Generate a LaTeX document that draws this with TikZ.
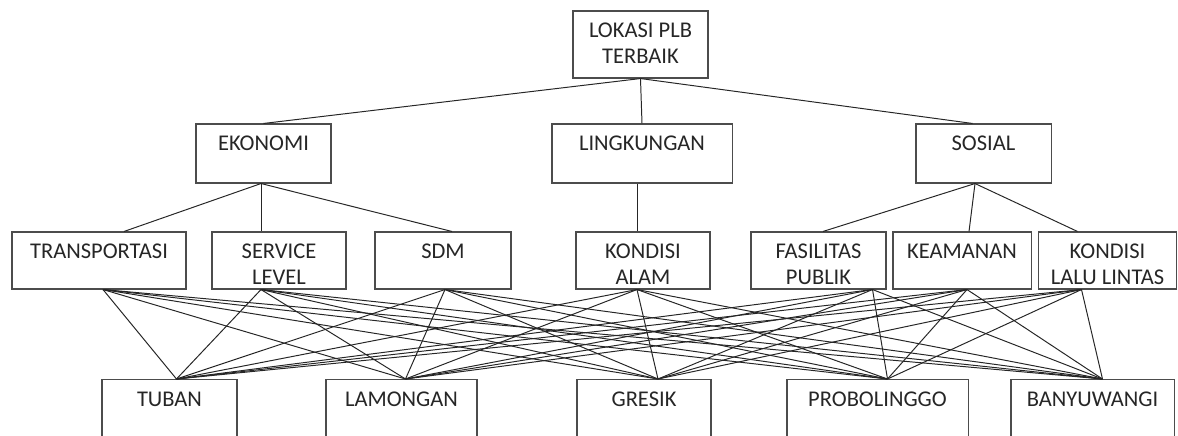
\documentclass[tikz,border=0pt]{standalone}
\usepackage{fontspec}
\setmainfont{Carlito}
\usepackage{tikz}
\usetikzlibrary{calc}

\begin{document}
\begin{tikzpicture}[x=0.025cm, y=-0.025cm, every node/.style={font=\fontsize{16}{18.5}\selectfont},
    box/.style={draw=black!70, line width=0.75pt},
    txt/.style={anchor=north, inner sep=0pt, yshift=-0.31cm, align=center, text=black!85},
    link/.style={black!85, line width=0.7pt}]
      \useasboundingbox (0,0) rectangle (1178,435);
      \clip (0,0) rectangle (1178,435);

      % Tujuan
      \node[box, minimum width=3.375cm, minimum height=1.675cm, label={[txt]north:{LOKASI PLB\\TERBAIK}}] (tujuan) at (640.5,44.5) {};

      % Kriteria
      \node[box, minimum width=3.375cm, minimum height=1.475cm, label={[txt]north:EKONOMI}] (ekonomi) at (263.5,153.5) {};
      \node[box, minimum width=4.5cm, minimum height=1.475cm, label={[txt]north:LINGKUNGAN}] (lingkungan) at (642,153.5) {};
      \node[box, minimum width=3.375cm, minimum height=1.475cm, label={[txt]north:SOSIAL}] (sosial) at (983.5,153.5) {};

      % Sub-kriteria
      \node[box, minimum width=4.35cm, minimum height=1.425cm, label={[txt]north:TRANSPORTASI}] (trans) at (99,260.5) {};
      \node[box, minimum width=3.35cm, minimum height=1.425cm, label={[txt]north:{SERVICE\\LEVEL}}] (serv) at (279,260.5) {};
      \node[box, minimum width=3.4cm, minimum height=1.425cm, label={[txt]north:SDM}] (sdm) at (443,260.5) {};
      \node[box, minimum width=3.35cm, minimum height=1.425cm, label={[txt]north:{KONDISI\\ALAM}}] (alam) at (643,260.5) {};
      \node[box, minimum width=3.375cm, minimum height=1.425cm, label={[txt]north:{FASILITAS\\PUBLIK}}] (fas) at (818.5,260.5) {};
      \node[box, minimum width=3.45cm, minimum height=1.425cm, label={[txt]north:KEAMANAN}] (keam) at (962,260.5) {};
      \node[box, minimum width=3.45cm, minimum height=1.425cm, label={[txt]north:{KONDISI\\LALU LINTAS}}] (lalin) at (1107.5,260.5) {};

      % Alternatif
      \node[box, anchor=north, minimum width=3.375cm, minimum height=2cm, label={[txt]north:TUBAN}] (tuban) at (169.5,379) {};
      \node[box, anchor=north, minimum width=3.775cm, minimum height=2cm, label={[txt]north:LAMONGAN}] (lamongan) at (401.5,379) {};
      \node[box, anchor=north, minimum width=3.35cm, minimum height=2cm, label={[txt]north:GRESIK}] (gresik) at (644,379) {};
      \node[box, anchor=north, minimum width=4.525cm, minimum height=2cm, label={[txt]north:PROBOLINGGO}] (probo) at (877.5,379) {};
      \node[box, anchor=north, minimum width=4.075cm, minimum height=2cm, label={[txt]north:BANYUWANGI}] (banyu) at (1092.5,379) {};

      % Tujuan ke kriteria
      \draw[link] (tujuan.south) -- (ekonomi.north);
      \draw[link] (tujuan.south) -- (lingkungan.north);
      \draw[link] (tujuan.south) -- ($(sosial.north)+(-11,0)$);

      % Kriteria ke sub-kriteria
      \draw[link] ($(ekonomi.south)+(-2.5,0)$) -- ($(trans.north)+(25,0)$);
      \draw[link] ($(ekonomi.south)+(-2.5,0)$) -- ($(serv.north)+(-18,0)$);
      \draw[link] ($(ekonomi.south)+(-2.5,0)$) -- ($(sdm.north)+(9,0)$);
      \draw[link] ($(lingkungan.south)+(-5,0)$) -- ($(alam.north)+(-6,0)$);
      \draw[link] ($(sosial.south)+(-8.5,0)$) -- ($(fas.north)+(4.5,0)$);
      \draw[link] ($(sosial.south)+(-8.5,0)$) -- ($(keam.north)+(7,0)$);
      \draw[link] ($(sosial.south)+(-8.5,0)$) -- ($(lalin.north)+(-30,0)$);

      % Sub-kriteria ke alternatif
      \foreach \s/\ds in {trans/4, serv/-18, sdm/2, alam/-6, fas/54, keam/5, lalin/-26}
        \foreach \a/\da in {tuban/7, lamongan/4, gresik/14, probo/10, banyu/10}
          \draw[link] ($(\s.south)+(\ds,0)$) -- ($(\a.north)+(\da,0)$);
    \end{tikzpicture}
\end{document}
